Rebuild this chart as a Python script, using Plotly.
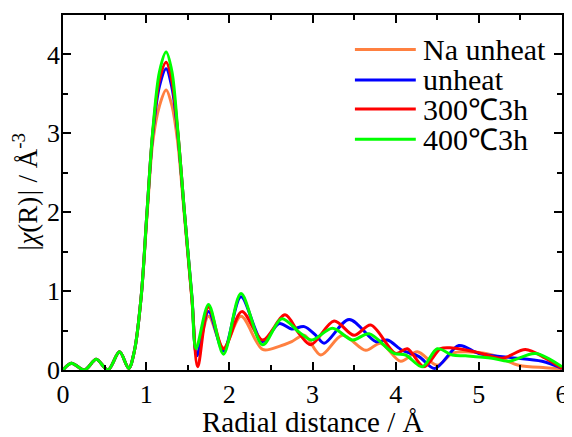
import plotly.graph_objects as go

# ---- data ----
na_unheat_x = [0, 0.1, 0.26, 0.4, 0.54, 0.68, 0.79, 0.86, 0.94, 1.01, 1.08, 1.16, 1.24, 1.31, 1.38, 1.46, 1.55, 1.61,
               1.75, 1.93, 2.14, 2.40, 2.60, 2.75, 2.90, 3.10, 3.36, 3.64, 3.82, 4.06, 4.26, 4.50, 4.68, 4.84, 5.16,
               5.48, 5.80, 6.0]
na_unheat_y = [0, 0.085, 0, 0.135, 0, 0.23, 0.02, 0.25, 0.93, 1.95, 2.90, 3.35, 3.55, 3.35, 2.88, 1.95, 0.90, 0.20,
               0.68, 0.28, 0.68, 0.26, 0.30, 0.36, 0.44, 0.19, 0.44, 0.25, 0.34, 0.11, 0.23, 0.06, 0.21, 0.23, 0.19,
               0.06, 0.03, 0.02]

unheat_x = [0, 0.1, 0.26, 0.4, 0.54, 0.68, 0.79, 0.86, 0.94, 1.01, 1.08, 1.16, 1.24, 1.31, 1.38, 1.46, 1.55, 1.61,
            1.75, 1.93, 2.14, 2.40, 2.60, 2.75, 2.90, 3.04, 3.14, 3.44, 3.76, 3.90, 4.08, 4.28, 4.47, 4.76, 5.00,
            5.36, 5.76, 6.0]
unheat_y = [0, 0.085, 0, 0.135, 0, 0.23, 0.02, 0.25, 0.93, 2.0, 3.0, 3.60, 3.82, 3.58, 3.0, 2.0, 0.93, 0.18,
            0.74, 0.24, 0.93, 0.36, 0.59, 0.52, 0.55, 0.44, 0.34, 0.64, 0.36, 0.38, 0.25, 0.17, 0.02, 0.31, 0.21,
            0.16, 0.11, 0.02]

h300_x = [0, 0.1, 0.26, 0.4, 0.54, 0.68, 0.79, 0.86, 0.94, 1.01, 1.08, 1.16, 1.24, 1.31, 1.38, 1.46, 1.55, 1.62,
          1.75, 1.93, 2.15, 2.40, 2.67, 2.84, 2.98, 3.26, 3.50, 3.70, 4.00, 4.14, 4.34, 4.54, 4.68, 4.96, 5.28,
          5.56, 5.80, 6.0]
h300_y = [0, 0.085, 0, 0.135, 0, 0.23, 0.02, 0.25, 0.93, 2.0, 3.02, 3.68, 3.90, 3.66, 3.02, 2.0, 0.90, 0.04,
          0.80, 0.27, 0.74, 0.38, 0.70, 0.46, 0.32, 0.62, 0.44, 0.57, 0.21, 0.27, 0.04, 0.27, 0.28, 0.23, 0.15,
          0.26, 0.15, 0.02]

h400_x = [0, 0.1, 0.26, 0.4, 0.54, 0.68, 0.79, 0.86, 0.94, 1.01, 1.08, 1.16, 1.24, 1.31, 1.38, 1.46, 1.55, 1.60,
          1.75, 1.93, 2.14, 2.40, 2.63, 2.84, 2.99, 3.24, 3.48, 3.68, 3.98, 4.12, 4.32, 4.50, 4.68, 4.84, 5.16,
          5.36, 5.68, 6.0]
h400_y = [0, 0.085, 0, 0.135, 0, 0.23, 0.02, 0.25, 0.93, 2.0, 3.04, 3.78, 4.03, 3.78, 3.04, 2.0, 0.93, 0.27,
          0.83, 0.20, 0.97, 0.32, 0.65, 0.48, 0.38, 0.53, 0.38, 0.46, 0.21, 0.19, 0.04, 0.27, 0.19, 0.18, 0.15,
          0.11, 0.21, 0.04]

series_names = ["Na unheat", "unheat", "300\u21033h", "400\u21033h"]
series_colors = ["#FF8040", "#0000FF", "#FF0000", "#00FF00"]
xs = [na_unheat_x, unheat_x, h300_x, h400_x]
ys = [na_unheat_y, unheat_y, h300_y, h400_y]

x_ticks = [0, 1, 2, 3, 4, 5, 6]
y_ticks = [0, 1, 2, 3, 4]

x_title = "Radial distance / Å"
y_title = "<i>|χ</i>(R)<i>|</i> / Å<sup>-3</sup>"

FONT = "Liberation Serif"

fig = go.Figure()
for x, y, name, col in zip(xs, ys, series_names, series_colors):
    fig.add_trace(go.Scatter(x=x, y=y, name=name, mode="lines",
                             line=dict(color=col, width=3, shape="spline", smoothing=0.9),
                             showlegend=False))

axis_common = dict(showline=True, linecolor="black", linewidth=1.5, mirror="ticks",
                   ticks="inside", ticklen=8, tickwidth=1.5, tickcolor="black",
                   showgrid=False, zeroline=False, automargin=False,
                   tickfont=dict(family=FONT, size=26, color="black"))

# page body adds an 8px offset, so the figure is 8px smaller on each axis
fig.update_layout(
    width=564, height=429,
    margin=dict(l=55, r=10, t=7, b=67),
    paper_bgcolor="white", plot_bgcolor="white",
    font=dict(family=FONT, color="black"),
    xaxis=dict(range=[0, 6], tickvals=x_ticks,
               minor=dict(dtick=0.5, ticks="inside", ticklen=5, tickwidth=1.5, tickcolor="black"),
               **axis_common),
    yaxis=dict(range=[0, 4.5], tickvals=y_ticks, ticklabelstandoff=-4,
               minor=dict(dtick=0.5, ticks="inside", ticklen=5, tickwidth=1.5, tickcolor="black"),
               title=dict(text=y_title, font=dict(family=FONT, size=27), standoff=2),
               **axis_common),
)

# x-axis title placed just above the bottom edge, as in the reference
fig.add_annotation(xref="paper", yref="paper", x=0.5, y=-0.146, text=x_title, showarrow=False,
                   xanchor="center", yanchor="middle", font=dict(family=FONT, size=29, color="black"))

# manual legend (long line samples like the reference)
leg_y = [0.903, 0.817, 0.735, 0.650]
for name, col, ly in zip(series_names, series_colors, leg_y):
    fig.add_shape(type="line", xref="paper", yref="paper", x0=0.585, x1=0.707, y0=ly, y1=ly,
                  line=dict(color=col, width=3))
    fig.add_annotation(xref="paper", yref="paper", x=0.717, y=ly, text=name, showarrow=False,
                       xanchor="left", yanchor="middle", font=dict(family=FONT, size=30, color="black"))

fig.write_html("out.html")
